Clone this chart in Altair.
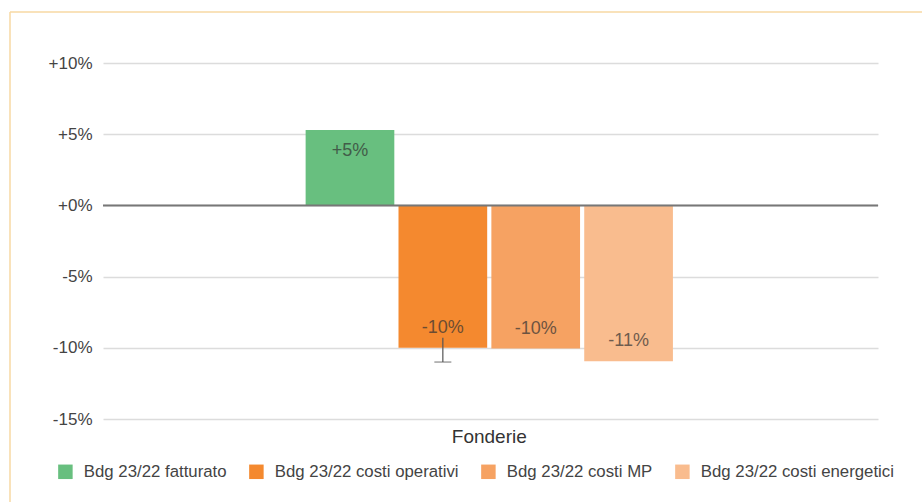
import altair as alt
import pandas as pd

# ---- data ----
categories = ["Fonderie"]
series = [
    "Bdg 23/22 fatturato",
    "Bdg 23/22 costi operativi",
    "Bdg 23/22 costi MP",
    "Bdg 23/22 costi energetici",
]
values = [5.3, -10.0, -10.05, -10.95]
colors = ["#68bf7f", "#f4892f", "#f6a262", "#f9bc8e"]

err_series = ["Bdg 23/22 costi operativi"]
err_low = [-11.0]
err_high = [-9.3]

y_ticks = [-15, -10, -5, 0, 5, 10]

FONT = "Liberation Sans"

df = pd.DataFrame({"cat": categories * len(series), "series": series, "value": values})
df_err = pd.DataFrame({"cat": categories * len(err_series), "series": err_series,
                       "low": err_low, "high": err_high})

x_enc = alt.X("cat:N", title=None,
              scale=alt.Scale(paddingOuter=0.555, paddingInner=0, align=0.497),
              axis=alt.Axis(labelFontSize=19, labelColor="#333", labelPadding=8, grid=False,
                            ticks=False, domain=False, labelAngle=0, labelFont=FONT))
xo_enc = alt.XOffset("series:N", sort=series, scale=alt.Scale(paddingInner=0.045))

base = alt.Chart(df)

bars = base.mark_bar().encode(
    x=x_enc,
    xOffset=xo_enc,
    y=alt.Y("value:Q", title=None,
            scale=alt.Scale(domain=[-15, 10], nice=False),
            axis=alt.Axis(values=y_ticks, labelExpr="(datum.value > 0 || datum.value == 0 ? '+' : '') + datum.value + '%'",
                          labelFontSize=17, labelColor="#444", labelPadding=11, labelFont=FONT,
                          ticks=False, domain=False, gridColor="#dcdcdc", gridWidth=1.5)),
    color=alt.Color("series:N", scale=alt.Scale(domain=series, range=colors),
                    legend=alt.Legend(title=None, orient="none", legendX=-46, legendY=400,
                                      direction="horizontal", symbolType="square",
                                      symbolSize=210, symbolStrokeWidth=0,
                                      labelFontSize=16.8, labelColor="#444", labelFont=FONT,
                                      labelLimit=0, columnPadding=21, labelOffset=10)),
)

label_calc = "(datum.value > 0 ? '+' : '') + round(datum.value) + '%'"

text_pos = base.transform_filter("datum.value > 0").transform_calculate(lbl=label_calc).mark_text(
    dy=21, baseline="middle", fontSize=18, font=FONT, color="#333", opacity=0.7
).encode(x=x_enc, xOffset=xo_enc, y="value:Q", text="lbl:N")

text_neg = base.transform_filter("datum.value < 0").transform_calculate(lbl=label_calc).mark_text(
    dy=-20, baseline="middle", fontSize=18, font=FONT, color="#333", opacity=0.7
).encode(x=x_enc, xOffset=xo_enc, y="value:Q", text="lbl:N")

zero = alt.Chart(pd.DataFrame({"z": [0]})).mark_rule(color="#777", strokeWidth=2).encode(
    y=alt.Y("z:Q")
)

err_rule = alt.Chart(df_err).mark_rule(color="#555", strokeWidth=1.2).encode(
    x=x_enc, xOffset=xo_enc, y="low:Q", y2="high:Q"
)
err_cap = alt.Chart(df_err).mark_tick(orient="horizontal", size=17, thickness=1.2, color="#555").encode(
    x=x_enc, xOffset=xo_enc, y="low:Q"
)

deco = pd.DataFrame({"d": [0]})
border_top = alt.Chart(deco).mark_rule(color="#f7d9a3", strokeWidth=1.5).encode(
    x=alt.value(-93), x2=alt.value(830), y=alt.value(-51)
)
border_left = alt.Chart(deco).mark_rule(color="#f7d9a3", strokeWidth=1.5).encode(
    x=alt.value(-93), y=alt.value(-51), y2=alt.value(450)
)

chart = alt.layer(bars, zero, text_pos, text_neg, err_rule, err_cap, border_top, border_left).properties(
    width=775, height=356,
    background="white",
    autosize=alt.AutoSizeParams(type="none"),
    padding={"left": 103, "top": 63, "right": 44, "bottom": 83},
).configure_view(stroke=None)

chart.save("out.html", embed_options={"renderer": "svg", "actions": False})
